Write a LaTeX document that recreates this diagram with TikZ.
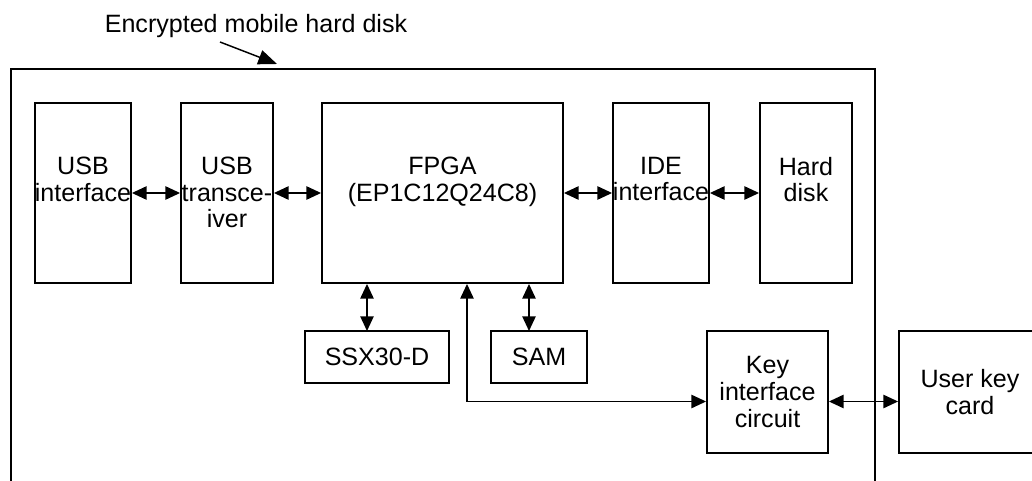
\documentclass[tikz,border=0pt]{standalone}
\usepackage{fontspec}
\setmainfont{Liberation Sans}
\usetikzlibrary{arrows.meta}

\begin{document}
\begin{tikzpicture}[x=0.75pt,y=-0.75pt,
    font=\fontsize{18.8}{20}\selectfont,
    box/.style={draw, line width=1.4pt, inner sep=0pt, align=center},
    toptext/.style={label={[anchor=north, align=center, inner sep=0pt, yshift=-41pt]north:#1}},
    link/.style={line width=1.1pt, {Triangle[length=11pt,width=10pt]}-{Triangle[length=11pt,width=10pt]}}]
    \useasboundingbox (0,0) rectangle (1032,481);
    \clip (0,0) rectangle (1032,481);

    \node[anchor=base] (title) at (256,33) {Encrypted mobile hard disk};

    \node[box, minimum width=72pt, minimum height=135pt, toptext={USB\\interface}] (usbif) at (83,193) {};
    \node[box, minimum width=69pt, minimum height=135pt, toptext={USB\\transce-\\iver}] (usbtr) at (227,193) {};
    \node[box, minimum width=180.75pt, minimum height=135pt, toptext={FPGA\\(EP1C12Q24C8)}] (fpga) at (442.5,193) {};
    \node[box, minimum width=72pt, minimum height=135pt, toptext={IDE\\interface}] (ide) at (661,193) {};
    \node[box, minimum width=69pt, minimum height=135pt, toptext={Hard\\disk}] (hdd) at (806,193) {};

    \node[box, minimum width=108pt, minimum height=39pt] (ssx) at (377,357) {SSX30-D};
    \node[box, minimum width=72pt, minimum height=39pt] (sam) at (539,357) {SAM};
    \node[box, minimum width=90.75pt, minimum height=91.5pt] (key) at (767.5,392) {Key\\interface\\circuit};
    \node[box, minimum width=106.5pt, minimum height=91.5pt] (user) at (970,392) {User key\\card};

    \coordinate (ssxpin) at (367,331);
    \coordinate (sampin) at (529,331);
    \coordinate (bend) at (467,401.5);
    \coordinate (tail) at (220,42);
    \coordinate (tip) at (277,64);

    % outer case, open at the bottom
    \draw[line width=1.5pt] (11,490) -- (11,69) -- (875,69) -- (875,490);

    \draw[line width=1.1pt, -{Triangle[length=14pt,width=11pt]}] (tail) -- (tip);

    \draw[link] (usbif.east) -- (usbtr.west);
    \draw[link] (usbtr.east) -- (fpga.west);
    \draw[link] (fpga.east) -- (ide.west);
    \draw[link] (ide.east) -- (hdd.west);
    \draw[link] (ssxpin |- fpga.south) -- (ssxpin);
    \draw[link] (sampin |- fpga.south) -- (sampin);
    \draw[link] (bend |- fpga.south) -- (bend) -- (bend -| key.west);
    \draw[link] (bend -| key.east) -- (bend -| user.west);
\end{tikzpicture}
\end{document}
